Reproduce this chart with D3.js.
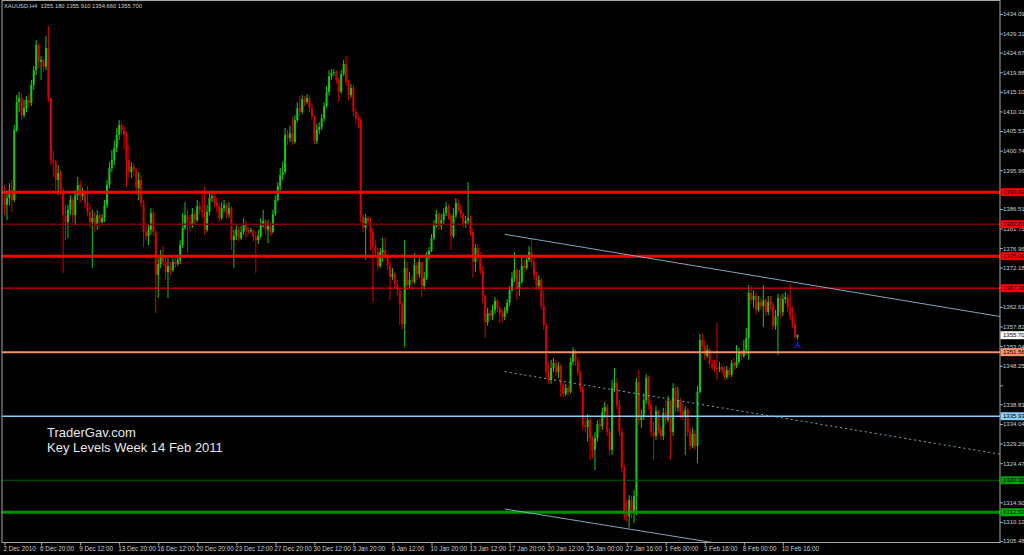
<!DOCTYPE html>
<html>
<head>
<meta charset="utf-8">
<script src="https://cdnjs.cloudflare.com/ajax/libs/d3/7.8.5/d3.min.js"></script>
<style>
body { margin: 0; background: #000; }
svg { display: block; }
</style>
</head>
<body>
<script>
// XAUUSD H4, 2 Dec 2010 - 11 Feb 2011
var firstOpen = 1389.9;

var closes = [
1387.5,1389.2,1391.1,1388.7,1405.8,1412.6,1413.6,1409.4,1411.1,1413.1,
1412.4,1416.8,1420.4,1426.5,1422.4,1422.9,1421.2,1425.8,1413.6,1398.5,
1398.0,1393.6,1395.3,1391.1,1385.0,1383.3,1386.3,1388.7,1385.0,1389.9,
1392.4,1389.7,1390.4,1388.0,1385.8,1383.3,1384.3,1382.6,1385.0,1383.3,
1384.3,1387.5,1392.4,1396.5,1398.5,1401.4,1404.6,1407.0,1405.8,1404.6,
1398.5,1395.5,1396.8,1396.0,1391.6,1393.6,1388.0,1380.9,1379.9,1381.4,
1385.5,1380.9,1370.4,1373.1,1375.0,1373.6,1371.1,1372.6,1371.6,1373.6,
1373.1,1374.1,1377.7,1381.9,1385.0,1383.3,1382.6,1385.3,1383.8,1387.2,
1386.3,1385.8,1381.4,1385.8,1389.2,1389.7,1388.0,1387.2,1384.3,1386.7,
1387.5,1385.3,1386.7,1378.9,1379.9,1381.4,1379.4,1380.9,1382.6,1381.4,
1381.1,1381.4,1379.7,1378.9,1379.9,1382.6,1383.6,1381.4,1382.4,1380.9,
1385.3,1388.7,1392.1,1394.8,1395.5,1404.6,1403.8,1405.0,1402.9,1408.2,
1411.1,1410.2,1413.3,1412.6,1413.6,1411.1,1409.2,1403.1,1405.8,1406.5,
1408.7,1411.6,1415.1,1418.9,1419.7,1419.9,1418.0,1415.1,1419.4,1421.9,
1417.5,1414.3,1416.0,1410.2,1408.7,1408.2,1384.6,1381.9,1384.3,1383.3,
1380.9,1377.5,1376.0,1372.6,1376.0,1376.5,1375.0,1372.8,1369.9,1370.6,
1368.2,1366.7,1363.3,1358.4,1372.1,1367.9,1369.2,1368.7,1372.8,1370.6,
1373.6,1367.7,1369.7,1374.5,1376.3,1379.4,1382.4,1385.3,1382.4,1383.8,
1385.5,1387.0,1384.8,1379.9,1385.0,1388.0,1386.5,1385.3,1382.8,1383.6,
1384.3,1380.9,1373.6,1377.0,1375.0,1371.6,1365.3,1358.9,1361.1,1360.4,
1361.9,1364.1,1362.4,1360.9,1360.2,1361.6,1363.6,1366.7,1369.7,1371.6,
1367.0,1368.7,1372.6,1372.1,1374.1,1376.0,1373.6,1370.2,1367.7,1369.2,
1362.8,1358.0,1346.7,1344.8,1347.7,1348.9,1346.7,1348.2,1343.6,1341.4,
1342.8,1341.9,1349.2,1351.9,1349.2,1346.7,1342.6,1333.8,1333.3,1335.0,
1330.6,1327.7,1330.6,1334.0,1333.5,1337.0,1338.2,1332.1,1327.7,1342.8,
1344.0,1338.7,1332.1,1323.3,1311.8,1311.6,1315.5,1312.6,1316.5,1344.3,
1335.0,1336.0,1339.9,1345.3,1338.7,1332.1,1331.1,1337.2,1332.6,1331.1,
1336.7,1335.0,1339.7,1332.1,1342.8,1338.0,1339.9,1337.0,1336.0,1337.5,
1332.1,1328.7,1331.6,1328.7,1341.9,1354.5,1353.1,1350.6,1352.1,1348.7,
1347.9,1347.7,1347.5,1347.9,1347.0,1345.5,1347.2,1346.0,1348.9,1348.2,
1349.2,1351.6,1350.6,1352.1,1355.0,1366.0,1364.3,1365.3,1361.9,1363.8,
1362.8,1364.3,1361.4,1363.8,1363.1,1358.0,1360.4,1364.8,1361.4,1364.5,
1365.0,1362.4,1360.4,1358.4,1355.18,1355.70
];

var highs = [
1392.4,1391.1,1392.8,1393.6,1407.0,1414.3,1415.1,1414.6,1413.1,1414.1,
1414.6,1418.0,1421.4,1427.7,1427.0,1423.8,1423.3,1428.7,1431.2,1413.6,
1400.9,1398.5,1397.2,1396.0,1391.6,1387.5,1387.5,1389.9,1389.4,1391.1,
1394.3,1393.6,1391.6,1391.1,1392.1,1387.5,1386.3,1385.8,1386.3,1385.8,
1385.3,1388.7,1393.6,1398.0,1400.9,1403.3,1406.3,1408.2,1407.7,1406.8,
1405.3,1402.1,1398.0,1397.7,1396.5,1395.5,1394.8,1388.7,1382.6,1382.8,
1386.7,1386.3,1381.4,1374.5,1376.5,1377.5,1375.3,1374.5,1373.6,1374.5,
1374.5,1375.3,1378.9,1385.5,1388.2,1386.3,1385.0,1386.7,1386.3,1388.7,
1388.2,1391.1,1391.9,1387.5,1390.7,1391.1,1390.4,1389.2,1387.7,1388.2,
1388.7,1388.0,1388.2,1387.2,1381.4,1382.6,1382.4,1382.4,1384.3,1383.8,
1381.9,1381.9,1381.4,1380.9,1381.4,1384.3,1386.3,1384.1,1383.8,1383.3,
1386.3,1389.9,1393.1,1396.5,1398.0,1406.3,1405.8,1406.8,1409.0,1409.4,
1412.6,1414.1,1414.3,1414.1,1414.6,1414.3,1412.1,1409.4,1407.2,1407.7,
1409.7,1412.6,1416.5,1420.4,1420.7,1420.7,1420.4,1418.5,1420.4,1422.9,
1423.8,1418.0,1417.0,1416.8,1411.1,1409.4,1408.7,1385.3,1385.3,1384.8,
1384.3,1381.9,1378.9,1377.0,1377.0,1379.4,1379.7,1375.5,1373.6,1372.1,
1371.1,1369.2,1367.2,1363.8,1378.9,1373.6,1371.1,1370.2,1375.8,1373.6,
1374.5,1373.6,1371.1,1376.0,1377.2,1380.4,1383.8,1386.3,1385.8,1385.3,
1386.7,1388.2,1387.7,1385.3,1386.7,1389.2,1388.9,1387.5,1385.8,1384.8,
1393.1,1385.0,1381.9,1378.0,1378.0,1376.0,1372.6,1365.8,1362.4,1361.9,
1363.1,1365.0,1364.5,1363.1,1361.9,1362.6,1364.5,1367.7,1371.1,1376.0,
1372.1,1371.6,1374.8,1374.3,1375.3,1377.5,1379.4,1374.5,1371.1,1370.4,
1369.7,1366.7,1358.9,1349.2,1349.7,1350.2,1349.7,1349.2,1348.7,1344.3,
1343.8,1343.6,1350.2,1352.8,1352.3,1350.2,1347.2,1343.3,1336.0,1336.5,
1335.5,1331.1,1332.1,1335.0,1335.3,1338.0,1339.4,1338.9,1333.1,1344.8,
1347.7,1345.3,1339.9,1333.1,1324.0,1315.5,1316.7,1316.5,1317.9,1345.3,
1347.2,1337.5,1341.4,1346.2,1345.8,1339.9,1334.5,1338.4,1337.5,1333.5,
1338.0,1339.9,1340.9,1339.9,1344.0,1343.3,1343.1,1340.4,1338.9,1338.4,
1338.0,1333.1,1333.1,1332.6,1343.3,1356.0,1356.0,1354.5,1353.3,1352.6,
1349.7,1349.7,1358.7,1349.2,1348.7,1348.2,1348.2,1347.7,1349.7,1350.2,
1353.3,1352.6,1352.1,1354.5,1357.5,1367.9,1367.7,1366.7,1366.3,1365.3,
1364.8,1367.9,1364.8,1365.3,1365.3,1363.8,1361.9,1365.8,1365.3,1365.8,
1366.3,1365.8,1368.4,1362.8,1361.1,1355.91
];

var lows = [
1385.0,1383.8,1387.5,1385.8,1388.2,1405.3,1410.2,1408.2,1408.7,1410.2,
1411.1,1411.6,1415.5,1419.2,1420.9,1418.0,1419.9,1420.4,1412.6,1397.2,
1394.3,1391.1,1389.9,1389.9,1370.9,1378.9,1379.4,1385.0,1383.3,1382.6,
1388.7,1388.0,1388.7,1386.7,1384.8,1381.9,1372.1,1380.9,1381.4,1381.9,
1382.4,1383.3,1386.7,1391.6,1395.5,1397.2,1400.4,1403.3,1404.6,1400.9,
1391.9,1394.1,1394.1,1394.6,1389.9,1388.7,1387.0,1377.2,1378.9,1377.7,
1380.2,1379.9,1361.1,1364.8,1372.1,1372.6,1369.2,1364.8,1370.4,1371.1,
1372.1,1372.6,1373.1,1377.0,1381.4,1375.8,1380.9,1381.9,1382.8,1383.3,
1385.3,1384.3,1380.2,1380.9,1385.0,1388.2,1387.0,1385.8,1383.3,1383.8,
1385.8,1384.3,1384.3,1376.5,1372.1,1378.9,1378.5,1378.9,1380.2,1379.4,
1380.4,1380.6,1378.5,1370.9,1378.0,1379.4,1381.9,1380.2,1378.2,1379.9,
1380.6,1384.8,1388.2,1391.1,1393.6,1395.0,1402.1,1402.9,1402.1,1402.4,
1407.7,1409.2,1409.7,1411.6,1412.1,1410.2,1408.2,1402.4,1402.4,1404.8,
1405.8,1407.7,1411.1,1414.3,1418.0,1418.9,1417.0,1412.6,1414.6,1418.9,
1416.5,1413.1,1413.6,1409.2,1407.2,1406.3,1383.3,1380.9,1374.1,1382.4,
1376.5,1363.8,1375.0,1371.6,1372.1,1373.6,1374.1,1371.6,1364.3,1369.2,
1367.2,1365.3,1358.2,1357.0,1352.8,1366.7,1367.2,1366.7,1368.2,1369.2,
1369.7,1365.0,1366.7,1369.2,1374.1,1376.0,1378.9,1381.9,1381.4,1381.4,
1382.8,1384.8,1383.8,1376.5,1379.4,1384.3,1385.8,1384.3,1381.9,1381.9,
1382.8,1379.9,1369.7,1371.1,1373.6,1370.6,1363.6,1355.0,1358.0,1359.4,
1359.4,1360.9,1361.4,1358.7,1358.9,1359.4,1360.9,1362.8,1366.3,1368.7,
1364.3,1365.3,1368.2,1371.1,1371.6,1373.6,1372.6,1369.2,1366.7,1366.7,
1361.9,1357.0,1345.3,1343.8,1343.8,1346.7,1345.8,1345.3,1340.6,1340.4,
1340.9,1341.1,1341.4,1348.4,1348.2,1345.8,1341.9,1332.6,1331.9,1329.7,
1325.3,1325.7,1322.8,1329.7,1332.1,1332.6,1335.5,1331.1,1326.5,1326.5,
1341.9,1337.5,1331.1,1322.3,1310.6,1310.1,1308.7,1311.1,1309.9,1311.8,
1333.8,1333.1,1335.0,1338.9,1337.5,1330.9,1325.3,1330.1,1331.6,1330.1,
1330.1,1333.8,1334.5,1325.3,1331.1,1337.0,1337.0,1335.5,1335.0,1326.5,
1331.1,1327.7,1328.2,1327.7,1324.5,1341.4,1352.1,1349.7,1350.2,1347.7,
1347.2,1346.7,1344.8,1346.7,1346.2,1344.8,1345.0,1345.3,1345.5,1347.2,
1347.7,1348.7,1349.7,1350.2,1351.1,1349.7,1363.3,1362.4,1360.9,1361.4,
1361.9,1357.7,1360.4,1360.6,1361.9,1357.0,1357.0,1350.9,1359.9,1360.4,
1363.6,1361.4,1359.4,1357.5,1354.5,1354.66
];

var timeLabels = ["2 Dec 2010","6 Dec 20:00","9 Dec 12:00","13 Dec 20:00","16 Dec 12:00",
  "20 Dec 20:00","23 Dec 12:00","27 Dec 20:00","30 Dec 12:00","3 Jan 20:00","6 Jan 12:00",
  "10 Jan 20:00","13 Jan 12:00","17 Jan 20:00","20 Jan 12:00","25 Jan 00:00","27 Jan 16:00",
  "1 Feb 00:00","3 Feb 16:00","8 Feb 00:00","10 Feb 16:00"];
var timeLabelBars = [0,15,31,47,63,79,95,111,127,143,159,175,191,207,223,239,255,271,287,303,319];

var priceTicks = [1434.09,1429.31,1424.67,1419.88,1415.10,1410.31,1405.53,1400.74,1395.96,
  1386.51,1381.75,1376.96,1372.18,1362.61,1357.82,1353.04,1348.25,
  1338.83,1334.04,1329.26,1324.47,1314.90,1310.12,1305.48];
// ticks whose label is hidden behind a level box (or missing)
var blankTicks = [1391.17,1367.40,1343.47,1319.69];

var levels = [1390.62,1382.81,1375.00,1367.18,1351.56,1335.93,1320.31,1312.50];
var lastPrice = 1355.70;

// trend lines: [bar index, price] anchors
var trendUpper = [[205, 1380.33], [325, 1368.47]];
var trendMid = [[205, 1346.80], [325, 1334.90]];
var trendLower = [[205, 1313.30], [275, 1306.57]];
var arrowMark = [325, 1353.4];

var headerText = "XAUUSD,H4  1355.180 1355.910 1354.660 1355.700";
var noteLines = ["TraderGav.com", "Key Levels Week 14 Feb 2011"];

// styles for the level lines
var levelColors = ["#ff0000","#7a0000","#ff0000","#d00000","#f4906c","#87cefa","#006400","#009000"];
var levelWidths = [3, 1.5, 3, 1.3, 2, 1.5, 1.2, 3];
var boxColors = ["#ff0000","#ff0000","#ff0000","#ff0000","#f4906c","#87cefa","#009a00","#00b000"];

var width = 1024, height = 555;
var plotLeft = 2, plotRight = 1000, plotTop = 0.5, plotBottom = 542.5;
var smallFont = "'Liberation Sans', Arial, sans-serif";

var svg = d3.select("body").append("svg")
    .attr("width", width)
    .attr("height", height)
    .style("background", "#000");

var x = d3.scaleLinear().domain([0, closes.length - 1]).range([4.5, 797.5]);
var y = d3.scaleLinear().domain([1305.48, 1434.09]).range([541, 14]);

var bars = closes.map(function(c, i) {
    return { i: i, o: i === 0 ? firstOpen : closes[i - 1], h: highs[i], l: lows[i], c: c };
});

svg.append("defs").append("clipPath").attr("id", "plot")
  .append("rect")
    .attr("x", plotLeft).attr("y", plotTop)
    .attr("width", plotRight - plotLeft).attr("height", plotBottom - plotTop);

var plot = svg.append("g").attr("clip-path", "url(#plot)");

function barColor(d) { return d.c >= d.o ? "#14c814" : "#d80000"; }

// candles
var candle = plot.selectAll("g.bar")
    .data(bars)
    .enter()
    .append("g")
    .attr("class", "bar");

candle.append("line")
    .attr("x1", function(d) { return x(d.i); })
    .attr("x2", function(d) { return x(d.i); })
    .attr("y1", function(d) { return y(Math.max(d.h, d.o, d.c)); })
    .attr("y2", function(d) { return y(Math.min(d.l, d.o, d.c)); })
    .attr("stroke", barColor)
    .attr("stroke-width", 1);

candle.append("rect")
    .attr("x", function(d) { return x(d.i) - 1; })
    .attr("width", 2)
    .attr("y", function(d) { return y(Math.max(d.o, d.c)); })
    .attr("height", function(d) { return Math.max(0.8, Math.abs(y(d.o) - y(d.c))); })
    .attr("fill", barColor);

// horizontal key levels
plot.selectAll("line.level")
    .data(levels)
    .enter()
    .append("line")
    .attr("class", "level")
    .attr("x1", plotLeft).attr("x2", plotRight)
    .attr("y1", function(d) { return y(d); })
    .attr("y2", function(d) { return y(d); })
    .attr("stroke", function(d, i) { return levelColors[i]; })
    .attr("stroke-width", function(d, i) { return levelWidths[i]; });

// trend lines, extended to the right edge
function drawTrend(pts, dash) {
    var x1 = x(pts[0][0]), y1 = y(pts[0][1]);
    var x2 = x(pts[1][0]), y2 = y(pts[1][1]);
    var slope = (y2 - y1) / (x2 - x1);
    plot.append("line")
        .attr("x1", x1).attr("y1", y1)
        .attr("x2", plotRight).attr("y2", y1 + slope * (plotRight - x1))
        .attr("stroke", "#7fa6c0")
        .attr("stroke-width", 1)
        .attr("stroke-dasharray", dash);
}
drawTrend(trendUpper, null);
drawTrend(trendMid, "2,3");
drawTrend(trendLower, null);

// small blue arrow at the last bar
var ax = x(arrowMark[0]), ay = y(arrowMark[1]);
plot.append("path")
    .attr("d", "M" + ax + "," + (ay - 4) + "L" + ax + "," + ay + "L" + (ax - 3) + "," + (ay + 3) +
               "M" + ax + "," + ay + "L" + (ax + 3) + "," + (ay + 3))
    .attr("stroke", "#1a1ad8")
    .attr("stroke-width", 1.5)
    .attr("fill", "none");

// frame
svg.append("rect")
    .attr("x", plotLeft).attr("y", plotTop)
    .attr("width", plotRight - plotLeft).attr("height", plotBottom - plotTop)
    .attr("fill", "none")
    .attr("stroke", "#a8a8a8")
    .attr("stroke-width", 1);

// price axis
var yAxis = d3.axisRight(y)
    .tickValues(priceTicks.concat(blankTicks))
    .tickSize(3)
    .tickPadding(0)
    .tickFormat(function(d) { return blankTicks.indexOf(d) >= 0 ? "" : d3.format(".2f")(d); });

var ya = svg.append("g")
    .attr("transform", "translate(" + plotRight + ",0)")
    .call(yAxis);
ya.select(".domain").remove();
ya.selectAll("line").attr("stroke", "#a8a8a8");
ya.selectAll("text")
    .attr("fill", "#cfcfcf")
    .attr("font-family", smallFont)
    .attr("font-size", "6px");

// time axis
var xAxis = d3.axisBottom(x)
    .tickValues(timeLabelBars)
    .tickSize(3)
    .tickPadding(1.5)
    .tickFormat(function(d, i) { return timeLabels[i]; });

var xa = svg.append("g")
    .attr("transform", "translate(0," + plotBottom + ")")
    .call(xAxis);
xa.select(".domain").remove();
xa.selectAll("line").attr("stroke", "#a8a8a8");
xa.selectAll("text")
    .attr("fill", "#cfcfcf")
    .attr("font-family", smallFont)
    .attr("font-size", "6.3px")
    .attr("text-anchor", "start")
    .attr("x", -1.5);

// level price boxes on the axis
var boxes = svg.selectAll("g.box")
    .data(levels.concat([lastPrice]))
    .enter()
    .append("g")
    .attr("class", "box")
    .attr("transform", function(d) { return "translate(" + (plotRight + 0.5) + "," + y(d) + ")"; });

boxes.append("rect")
    .attr("x", 0).attr("y", -4)
    .attr("width", 26).attr("height", 8)
    .attr("fill", function(d, i) { return i < levels.length ? boxColors[i] : "#ffffff"; });

boxes.append("text")
    .attr("x", 2.5)
    .attr("dy", "0.35em")
    .attr("fill", "#000")
    .attr("font-family", smallFont)
    .attr("font-size", "6px")
    .text(function(d) { return d3.format(".2f")(d); });

// header
svg.append("text")
    .attr("x", 4).attr("y", 7.5)
    .attr("fill", "#cfcfcf")
    .attr("font-family", smallFont)
    .attr("font-size", "5.8px")
    .attr("xml:space", "preserve")
    .text(headerText);

// note text
svg.selectAll("text.note")
    .data(noteLines)
    .enter()
    .append("text")
    .attr("class", "note")
    .attr("x", 47)
    .attr("y", function(d, i) { return 437 + i * 14.5; })
    .attr("fill", "#e8e8e8")
    .attr("font-family", "'Liberation Sans', Arial, sans-serif")
    .attr("font-size", "13px")
    .text(function(d) { return d; });
</script>
</body>
</html>
